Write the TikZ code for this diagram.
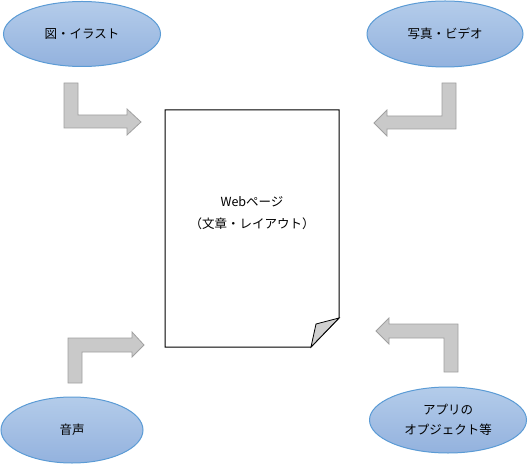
\documentclass[tikz,border=0pt]{standalone}
\usepackage{fontspec}
\setmainfont{Noto Sans CJK JP}
\usetikzlibrary{shapes.geometric}
\definecolor{elltop}{HTML}{B4CCEA}
\definecolor{ellbot}{HTML}{93B2DE}
\definecolor{elledge}{HTML}{5B9BD5}
\definecolor{arrfill}{HTML}{C9C9C9}
\definecolor{arredge}{HTML}{A0A0A0}
\definecolor{foldfill}{HTML}{D0D0D0}
\begin{document}
\begin{tikzpicture}[x=1bp,y=-1bp,
  bubble/.style={ellipse,draw=elledge,line width=1bp,top color=elltop,bottom color=ellbot,inner sep=0pt,font=\fontsize{12.5bp}{20bp}\selectfont,align=center},
  bentarrow/.style={fill=arrfill,draw=arredge,line width=0.8bp,line join=miter},
  pagetext/.style={font=\fontsize{12.5bp}{22bp}\selectfont,align=center}]
\useasboundingbox (0,0) rectangle (528,465);
% ellipses
\node[bubble,minimum width=157bp,minimum height=65bp] (ill) at (82,34) {図・イラスト};
\node[bubble,minimum width=156bp,minimum height=66bp] (pho) at (445,34) {写真・ビデオ};
\node[bubble,minimum width=142bp,minimum height=66bp] (snd) at (72,430) {音声};
\node[bubble,minimum width=157bp,minimum height=66bp] (app) at (448,420) {アプリの\\オプジェクト等};
% page
\coordinate (p1) at (165,110);
\coordinate (p2) at (339,110);
\coordinate (p3) at (339,318);
\coordinate (p4) at (311,347);
\coordinate (p5) at (165,347);
\coordinate (f1) at (316,324);
\draw[line width=1bp,fill=white] (p1) -- (p2) -- (p3) -- (p4) -- (p5) -- cycle;
\draw[line width=0.8bp,fill=foldfill] (p4) -- (f1) -- (p3) -- cycle;
\node[pagetext] (page) at (252,213) {Webページ\\（文章・レイアウト）};
% bent arrows
\draw[bentarrow] (64,83) -- (78,83) -- (78,115) -- (127,115) -- (127,109) -- (141,122) -- (127,135) -- (127,128) -- (64,128) -- cycle;
\draw[bentarrow] (456,83) -- (442,83) -- (442,116) -- (387,116) -- (387,110) -- (374,123) -- (387,136) -- (387,129) -- (456,129) -- cycle;
\draw[bentarrow] (68,383) -- (82,383) -- (82,352) -- (132,352) -- (132,357) -- (144,345) -- (132,332) -- (132,338) -- (68,338) -- cycle;
\draw[bentarrow] (458,372) -- (444,372) -- (444,338) -- (389,338) -- (389,344) -- (376,331) -- (389,318) -- (389,324) -- (458,324) -- cycle;
\end{tikzpicture}
\end{document}
